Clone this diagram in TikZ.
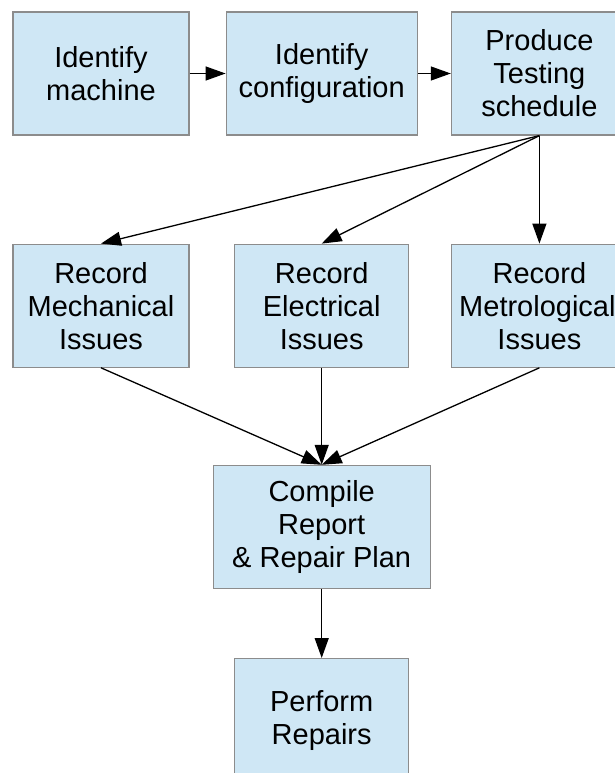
\documentclass[tikz,border=0pt]{standalone}
\usepackage{fontspec}
\setmainfont{Liberation Sans}
\usepackage{tikz}
\usetikzlibrary{arrows.meta,positioning}
\definecolor{paleblue}{HTML}{CFE7F5}
\definecolor{boxgray}{HTML}{8C8C8C}

\begin{document}
\begin{tikzpicture}[x=1pt,y=1pt,>={Triangle[length=20pt,width=14pt]},node distance=36pt,
                    box/.style={draw=boxgray,line width=1.2pt,fill=paleblue,align=center,
                      minimum height=123pt,inner sep=0pt,font=\fontsize{29}{33}\selectfont},
                    every edge/.style={draw,line width=1.3pt}]

\useasboundingbox (0,0) rectangle (614,-773);

\node[box, minimum width=176pt] (ID1) at (101,-73.5) {Identify\\machine};
\node[box, minimum width=191pt] (ID2) [right=36pt of ID1] {Identify\\configuration};
\node[box, minimum width=176pt] (PT)  [right=33pt of ID2] {Produce\\Testing\\schedule};

\node[box, minimum width=176pt] (RM) [below=108pt of ID1] {Record\\Mechanical\\Issues};
\node[box, minimum width=174pt] (RE) [below=108pt of ID2] {Record\\Electrical\\Issues};
\node[box, minimum width=176pt] (RT) [below=108pt of PT]  {Record\\Metrological\kern4pt\\Issues};

\node[box, minimum width=217pt] (CR) [below=97pt of RE] {Compile\\Report\\\& Repair Plan};
\node[box, minimum width=174pt] (PR) [below=69pt of CR] {Perform\\Repairs};

\path (ID1) edge[->] (ID2)
      (ID2) edge[->] (PT);

\path (PT.south) edge[->] (RM.north)
      (PT.south) edge[->] (RE.north)
      (PT.south) edge[->] (RT.north);

\path (RM.south) edge[->] (CR.north)
      (RE.south) edge[->] (CR.north)
      (RT.south) edge[->] (CR.north);

\path (CR) edge[->] (PR);

\end{tikzpicture}
\end{document}
